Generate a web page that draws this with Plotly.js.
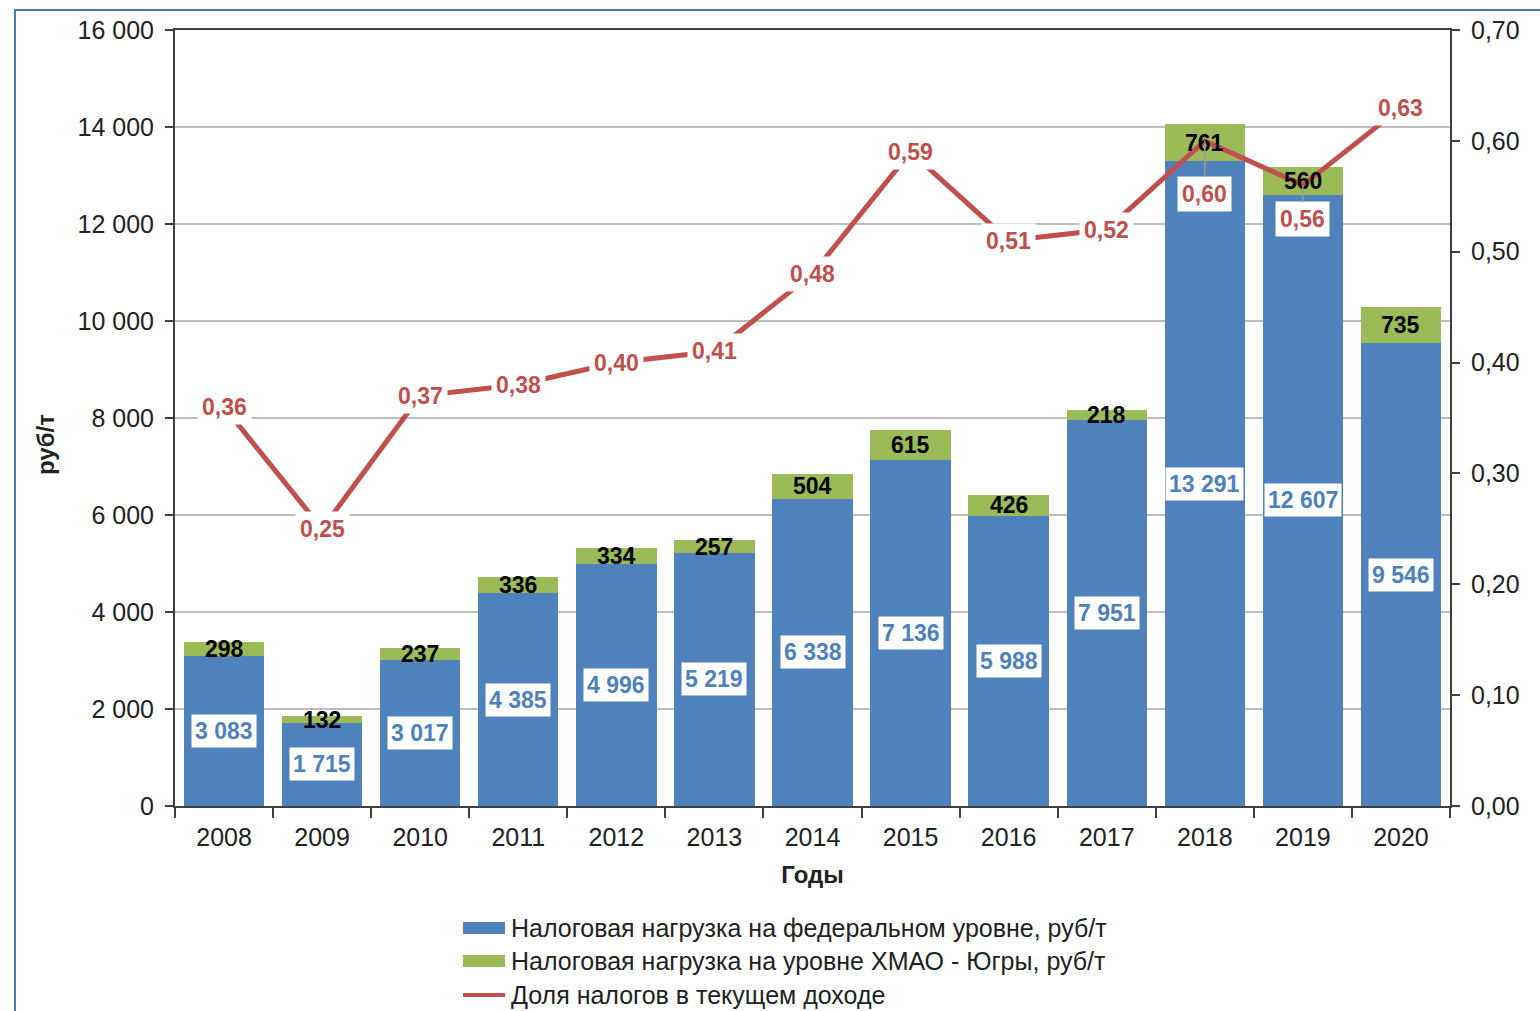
<!DOCTYPE html>
<html>
<head>
<meta charset="utf-8">
<script src="https://cdn.plot.ly/plotly-3.0.1.min.js"></script>
<style>
  html, body { margin: 0; padding: 0; background: #ffffff; }
  #wrap { position: relative; width: 1540px; height: 1011px; overflow: hidden; }
  #chart { position: absolute; left: 0; top: 0; width: 1540px; height: 1011px; }
  #frame { position: absolute; left: 14px; top: 9px; width: 1540px; height: 1011px;
           border-top: 2px solid #4a78c4; border-left: 2px solid #4a78c4; pointer-events: none; }
</style>
</head>
<body>
<div id="wrap">
  <div id="chart"></div>
  <div id="frame"></div>
</div>
<script>
const years = ['2008','2009','2010','2011','2012','2013','2014','2015','2016','2017','2018','2019','2020'];
const federal = [3083, 1715, 3017, 4385, 4996, 5219, 6338, 7136, 5988, 7951, 13291, 12607, 9546];
const regional = [298, 132, 237, 336, 334, 257, 504, 615, 426, 218, 761, 560, 735];
const taxShare = [0.36, 0.25, 0.37, 0.38, 0.40, 0.41, 0.48, 0.59, 0.51, 0.52, 0.60, 0.56, 0.63];

const seriesNames = [
  'Налоговая нагрузка на федеральном уровне, руб/т',
  'Налоговая нагрузка на уровне ХМАО - Югры, руб/т',
  'Доля налогов в текущем доходе'
];
const yTitle = 'руб/т';
const xTitle = 'Годы';

const BLUE = '#4f81bd', GREEN = '#9bbb59', RED = '#c0504d';
const FONT = 'Liberation Sans, Arial, sans-serif';

function fmtInt(v) {
  return String(v).replace(/\B(?=(\d{3})+(?!\d))/g, ' ');
}
function fmtDec(v) {
  return v.toFixed(2).replace('.', ',');
}

const traces = [
  { type: 'bar', name: seriesNames[0], x: years, y: federal,
    marker: { color: BLUE }, hoverinfo: 'skip' },
  { type: 'bar', name: seriesNames[1], x: years, y: regional,
    marker: { color: GREEN }, hoverinfo: 'skip' },
  { type: 'scatter', mode: 'lines', name: seriesNames[2], x: years, y: taxShare,
    yaxis: 'y2', line: { color: RED, width: 5 }, hoverinfo: 'skip' }
];

// plot-area geometry (pixels) used to place the hand-drawn legend and y title
const PL = 175, PR = 1450, PT = 30, PB = 806;
const px2x = p => (p - PL) / (PR - PL);
const py2y = p => (PB - p) / (PB - PT);

const annotations = [];
years.forEach((yr, i) => {
  annotations.push({
    x: i, y: federal[i] / 2, xref: 'x', yref: 'y',
    text: '<b>' + fmtInt(federal[i]) + '</b>', showarrow: false,
    font: { family: FONT, size: 23, color: BLUE },
    bgcolor: '#ffffff', borderpad: 3
  });
  annotations.push({
    x: i, y: federal[i] + regional[i] / 2, xref: 'x', yref: 'y',
    text: '<b>' + fmtInt(regional[i]) + '</b>', showarrow: false,
    font: { family: FONT, size: 23, color: '#000000' }
  });
});
const leaderOffsets = { '2018': 53, '2019': 34 };
years.forEach((yr, i) => {
  const off = leaderOffsets[yr];
  const a = {
    x: i, y: taxShare[i], xref: 'x', yref: 'y2',
    text: '<b>' + fmtDec(taxShare[i]) + '</b>',
    font: { family: FONT, size: 23, color: RED },
    bgcolor: '#ffffff', borderpad: 4
  };
  if (off) {
    a.showarrow = true; a.ax = 0; a.ay = off; a.arrowhead = 0;
    a.arrowcolor = '#9a9a9a'; a.arrowwidth = 1.5; a.standoff = 0;
  } else {
    a.showarrow = false;
  }
  annotations.push(a);
});

// y-axis title placed as in the original (slightly below the plot centre)
annotations.push({ xref: 'paper', yref: 'paper', x: px2x(45), y: py2y(445),
  xanchor: 'center', yanchor: 'middle', textangle: -90, showarrow: false,
  text: '<b>' + yTitle + '</b>', font: { family: FONT, size: 24, color: '#222222' } });

// legend (drawn as shapes + text to get the wide swatches of the original)
const legendRows = [928, 961, 995];
const shapes = [];
seriesNames.forEach((nm, k) => {
  const cy = legendRows[k];
  if (k < 2) {
    shapes.push({ type: 'rect', xref: 'paper', yref: 'paper',
      x0: px2x(463), x1: px2x(505), y0: py2y(cy - 6), y1: py2y(cy + 6),
      fillcolor: k === 0 ? BLUE : GREEN, line: { width: 0 } });
  } else {
    shapes.push({ type: 'line', xref: 'paper', yref: 'paper',
      x0: px2x(463), x1: px2x(505), y0: py2y(cy), y1: py2y(cy),
      line: { color: RED, width: 4 } });
  }
  annotations.push({ xref: 'paper', yref: 'paper', x: px2x(509), y: py2y(cy),
    xanchor: 'left', yanchor: 'middle', showarrow: false, text: nm,
    font: { family: FONT, size: 25, color: '#222222' } });
});

const layout = {
  width: 1540, height: 1011,
  margin: { l: 175, r: 90, t: 30, b: 205 },
  paper_bgcolor: '#ffffff', plot_bgcolor: '#ffffff',
  barmode: 'stack', bargap: 0.18,
  separators: ', ',
  font: { family: FONT, size: 25, color: '#222222' },
  showlegend: false,
  xaxis: {
    type: 'category', range: [-0.5, 12.5], autorange: false,
    showline: true, linecolor: '#404040', linewidth: 2,
    mirror: true, ticks: 'outside', tickson: 'boundaries', ticklen: 10,
    tickcolor: '#404040', tickwidth: 2, showgrid: false,
    ticklabelstandoff: 8,
    tickfont: { family: FONT, size: 25, color: '#222222' },
    title: { text: '<b>' + xTitle + '</b>', standoff: 16, font: { family: FONT, size: 24, color: '#222222' } }
  },
  yaxis: {
    range: [0, 16000], autorange: false, dtick: 2000, tickformat: ',d',
    showline: true, linecolor: '#404040', linewidth: 2,
    ticks: 'outside', ticklen: 8, tickcolor: '#404040', tickwidth: 2,
    ticklabelstandoff: 6,
    showgrid: true, gridcolor: '#bdbdbd', gridwidth: 2, zeroline: false,
    tickfont: { family: FONT, size: 25, color: '#222222' }
  },
  yaxis2: {
    overlaying: 'y', side: 'right', range: [0, 0.7], autorange: false, dtick: 0.1, tickformat: '.2f',
    showline: true, linecolor: '#404040', linewidth: 2,
    ticks: 'outside', ticklen: 8, tickcolor: '#404040', tickwidth: 2,
    ticklabelstandoff: 6,
    showgrid: false, zeroline: false,
    tickfont: { family: FONT, size: 25, color: '#222222' }
  },
  shapes: shapes,
  annotations: annotations
};

Plotly.newPlot('chart', traces, layout, { staticPlot: true, displayModeBar: false });
</script>
</body>
</html>
